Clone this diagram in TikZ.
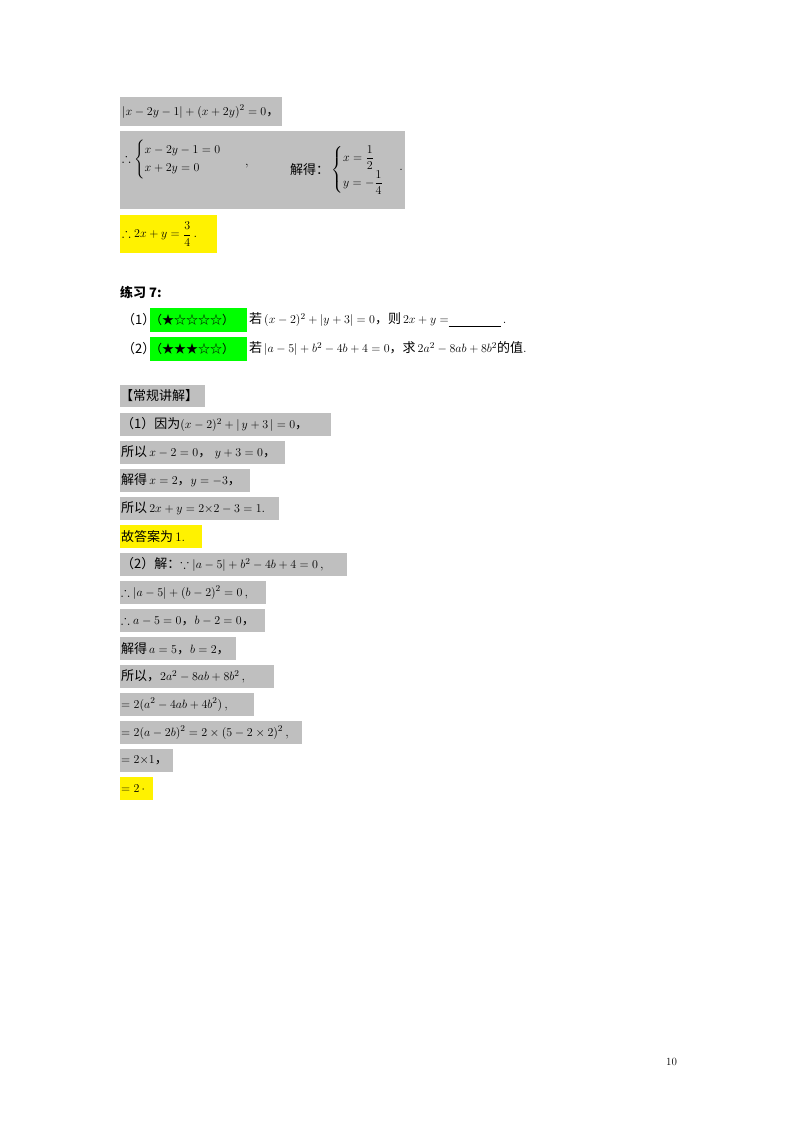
\documentclass[tikz,border=0pt]{standalone}
\usepackage{amsmath,amssymb}
\usepackage{fontspec}
\newfontfamily\cjk{Noto Sans CJK SC}
\usetikzlibrary{positioning}
\newcommand{\zh}[1]{{\cjk #1}}
\begin{document}
\begin{tikzpicture}[x=1pt,y=-1pt,
  gray shade/.style={fill=black!25},
  yellow shade/.style={fill=yellow},
  green shade/.style={fill=green},
  plain/.style={anchor=west, inner sep=0pt, font=\fontsize{13}{15}\selectfont},
  greentext/.style={plain, font=\fontsize{12}{14}\selectfont\cjk}
]
\useasboundingbox (0,0) rectangle (800,1132);
% worked answer, top
\fill[gray shade] (120,97) rectangle (282,126);
\node[plain] (absq) at (122,111.5) {$\left|x-2y-1\right|+(x+2y)^2=0$\zh{，}};
\fill[gray shade] (120,131) rectangle (405,209);
\node[plain] (sys) at (122,159) {$\therefore\begin{cases}x-2y-1=0\\x+2y=0\end{cases}$};
\node[plain] (comma) at (245,166) {,};
\node[plain] (jiede) at (290,170) {\zh{解得：}};
\node[plain, right=2pt of jiede] (sol) {$\begin{cases}x=\dfrac12\\[4pt] y=-\dfrac14\end{cases}$};
\node[plain, right=2pt of sol] (dot) {.};
\fill[yellow shade] (120,215) rectangle (217,253);
\node[plain] (res) at (122,234) {$\therefore 2x+y=\dfrac34$\,.};
% exercise 7
\node[plain, font=\fontsize{13}{15}\selectfont\bfseries\cjk] (ex) at (120,292) {练习 7:};
\node[plain, font=\fontsize{13}{15}\selectfont\cjk] (qa) at (122,320) {（1）};
\fill[green shade] (150,308) rectangle (247,332);
\node[greentext] (stara) at (150,320) {（★☆☆☆☆）};
\node[plain] (qatext) at (249,320)
  {\zh{若}$\,(x-2)^2+\left|y+3\right|=0$\zh{，则}$\,2x+y=$\underline{\hspace{52pt}}\,.};
\node[plain, font=\fontsize{13}{15}\selectfont\cjk] (qb) at (122,349) {（2）};
\fill[green shade] (150,337) rectangle (247,361);
\node[greentext] (starb) at (150,349) {（★★★☆☆）};
\node[plain] (qbtext) at (249,349)
  {\zh{若}$\,|a-5|+b^2-4b+4=0$\zh{，求}$\,2a^2-8ab+8b^2$\zh{的值}.};
% solution
\fill[gray shade] (120,385) rectangle (205,407);
\node[plain, font=\fontsize{13}{15}\selectfont\cjk] (head) at (120,396) {【常规讲解】};
\foreach \name/\y/\w/\kind/\txt in {
  s1/413/211/gray/{\zh{（1）因为}$(x-2)^2+|\,y+3\,|=0$\zh{，}},
  s2/441/165/gray/{\zh{所以}\,$x-2=0$\zh{，}\;$y+3=0$\zh{，}},
  s3/469/130/gray/{\zh{解得}\,$x=2$\zh{，}$y=-3$\zh{，}},
  s4/497/159/gray/{\zh{所以}\,$2x+y=2{\times}2-3=1$.},
  s5/525/82/yellow/{\zh{故答案为}\,1.},
  s6/553/227/gray/{\zh{（2）解：}$\because|a-5|+b^2-4b+4=0$\,,},
  s7/581/146/gray/{$\therefore|a-5|+(b-2)^2=0$\,,},
  s8/609/145/gray/{$\therefore a-5=0$\zh{，}$b-2=0$\zh{，}},
  s9/637/116/gray/{\zh{解得}$\,a=5$\zh{，}$b=2$\zh{，}},
  s10/665/154/gray/{\zh{所以，}$2a^2-8ab+8b^2$\,,},
  s11/693/134/gray/{$=2(a^2-4ab+4b^2)$\,,},
  s12/721/182/gray/{$=2(a-2b)^2=2\times(5-2\times2)^2$\,,},
  s13/749/53/gray/{$=2{\times}1$\zh{，}},
  s14/777/33/yellow/{$=2$\,$\cdot$}}
{
  \fill[\kind\space shade] (120,\y) rectangle ++(\w,23);
  \node[plain] (\name) at (121,\y+11.5) {\txt};
}
\node[plain, font=\fontsize{11}{13}\selectfont] (page) at (666,1062) {10};
\end{tikzpicture}
\end{document}
